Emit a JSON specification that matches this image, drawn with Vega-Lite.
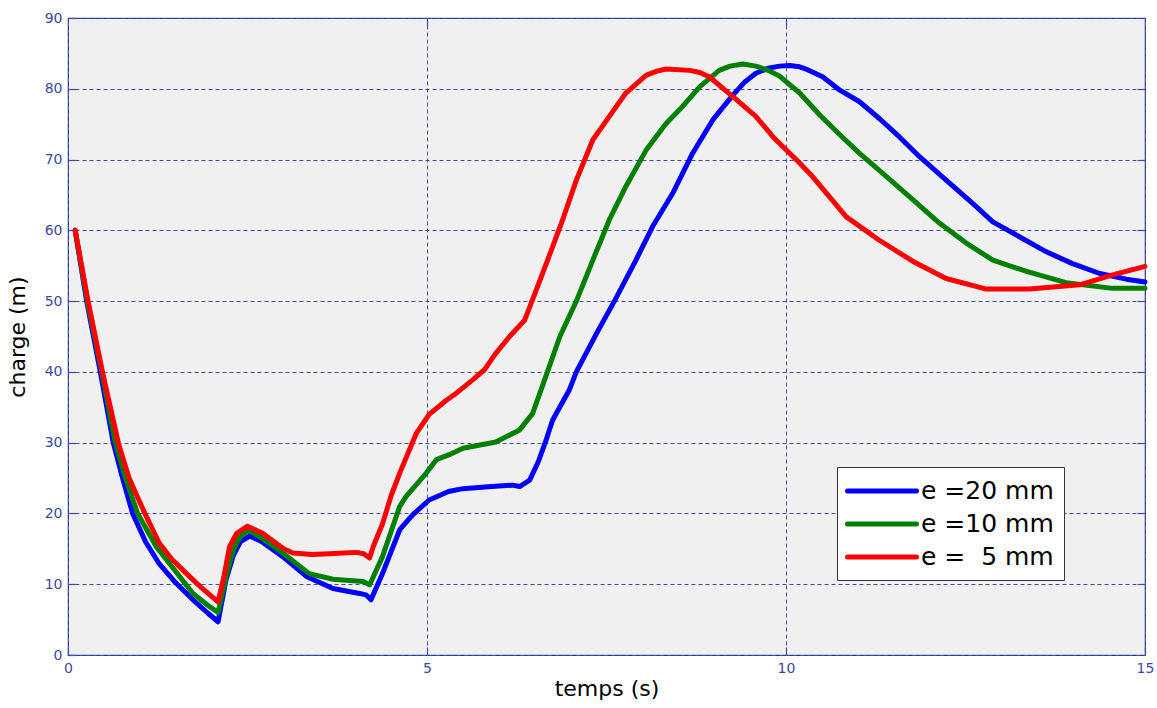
{
  "$schema": "https://vega.github.io/schema/vega-lite/v6.json",
  "width": 1077,
  "height": 637,
  "autosize": {"type": "none"},
  "padding": {"left": 68, "top": 18, "right": 12, "bottom": 53},
  "background": "white",
  "config": {
    "view": {"fill": "#f0f0f0", "stroke": "#3f4ea3", "strokeWidth": 1.2},
    "axis": {
      "labelFont": "DejaVu Sans",
      "labelFontSize": 14,
      "labelColor": "#4048a0",
      "titleFont": "DejaVu Sans",
      "titleFontSize": 22,
      "titleFontWeight": "normal",
      "titleColor": "black",
      "domain": false,
      "tickColor": "#3f4ea3",
      "tickSize": -8,
      "tickWidth": 1.2,
      "gridColor": "#2e3c98",
      "gridDash": [4, 3],
      "gridWidth": 1,
      "gridOpacity": 0.9
    }
  },
  "data": {
    "values": [
      {"t": 0.10, "h": 60.0, "e": "e =20 mm"},
      {"t": 0.26, "h": 50.0, "e": "e =20 mm"},
      {"t": 0.45, "h": 40.0, "e": "e =20 mm"},
      {"t": 0.63, "h": 30.0, "e": "e =20 mm"},
      {"t": 0.76, "h": 25.0, "e": "e =20 mm"},
      {"t": 0.90, "h": 20.0, "e": "e =20 mm"},
      {"t": 1.08, "h": 16.0, "e": "e =20 mm"},
      {"t": 1.27, "h": 12.9, "e": "e =20 mm"},
      {"t": 1.50, "h": 10.2, "e": "e =20 mm"},
      {"t": 1.74, "h": 7.8, "e": "e =20 mm"},
      {"t": 1.95, "h": 5.9, "e": "e =20 mm"},
      {"t": 2.09, "h": 4.7, "e": "e =20 mm"},
      {"t": 2.20, "h": 10.6, "e": "e =20 mm"},
      {"t": 2.30, "h": 14.0, "e": "e =20 mm"},
      {"t": 2.40, "h": 16.0, "e": "e =20 mm"},
      {"t": 2.53, "h": 16.8, "e": "e =20 mm"},
      {"t": 2.70, "h": 16.0, "e": "e =20 mm"},
      {"t": 2.99, "h": 13.9, "e": "e =20 mm"},
      {"t": 3.32, "h": 11.1, "e": "e =20 mm"},
      {"t": 3.69, "h": 9.4, "e": "e =20 mm"},
      {"t": 4.06, "h": 8.7, "e": "e =20 mm"},
      {"t": 4.15, "h": 8.5, "e": "e =20 mm"},
      {"t": 4.22, "h": 7.8, "e": "e =20 mm"},
      {"t": 4.38, "h": 11.5, "e": "e =20 mm"},
      {"t": 4.62, "h": 17.7, "e": "e =20 mm"},
      {"t": 4.80, "h": 19.8, "e": "e =20 mm"},
      {"t": 5.03, "h": 21.9, "e": "e =20 mm"},
      {"t": 5.30, "h": 23.1, "e": "e =20 mm"},
      {"t": 5.50, "h": 23.5, "e": "e =20 mm"},
      {"t": 5.90, "h": 23.8, "e": "e =20 mm"},
      {"t": 6.19, "h": 24.0, "e": "e =20 mm"},
      {"t": 6.29, "h": 23.8, "e": "e =20 mm"},
      {"t": 6.43, "h": 24.7, "e": "e =20 mm"},
      {"t": 6.55, "h": 27.3, "e": "e =20 mm"},
      {"t": 6.66, "h": 30.4, "e": "e =20 mm"},
      {"t": 6.75, "h": 33.2, "e": "e =20 mm"},
      {"t": 6.98, "h": 37.4, "e": "e =20 mm"},
      {"t": 7.08, "h": 40.0, "e": "e =20 mm"},
      {"t": 7.36, "h": 45.4, "e": "e =20 mm"},
      {"t": 7.61, "h": 50.0, "e": "e =20 mm"},
      {"t": 7.91, "h": 55.8, "e": "e =20 mm"},
      {"t": 8.14, "h": 60.5, "e": "e =20 mm"},
      {"t": 8.42, "h": 65.2, "e": "e =20 mm"},
      {"t": 8.70, "h": 70.9, "e": "e =20 mm"},
      {"t": 8.98, "h": 75.6, "e": "e =20 mm"},
      {"t": 9.26, "h": 79.1, "e": "e =20 mm"},
      {"t": 9.42, "h": 80.9, "e": "e =20 mm"},
      {"t": 9.58, "h": 82.2, "e": "e =20 mm"},
      {"t": 9.75, "h": 82.9, "e": "e =20 mm"},
      {"t": 9.91, "h": 83.2, "e": "e =20 mm"},
      {"t": 10.05, "h": 83.3, "e": "e =20 mm"},
      {"t": 10.19, "h": 83.1, "e": "e =20 mm"},
      {"t": 10.30, "h": 82.7, "e": "e =20 mm"},
      {"t": 10.51, "h": 81.7, "e": "e =20 mm"},
      {"t": 10.75, "h": 79.8, "e": "e =20 mm"},
      {"t": 11.02, "h": 78.2, "e": "e =20 mm"},
      {"t": 11.30, "h": 75.8, "e": "e =20 mm"},
      {"t": 11.58, "h": 73.2, "e": "e =20 mm"},
      {"t": 11.86, "h": 70.4, "e": "e =20 mm"},
      {"t": 12.23, "h": 67.1, "e": "e =20 mm"},
      {"t": 12.60, "h": 63.8, "e": "e =20 mm"},
      {"t": 12.88, "h": 61.2, "e": "e =20 mm"},
      {"t": 13.25, "h": 59.1, "e": "e =20 mm"},
      {"t": 13.62, "h": 57.0, "e": "e =20 mm"},
      {"t": 13.99, "h": 55.3, "e": "e =20 mm"},
      {"t": 14.37, "h": 53.9, "e": "e =20 mm"},
      {"t": 14.74, "h": 53.1, "e": "e =20 mm"},
      {"t": 15.00, "h": 52.7, "e": "e =20 mm"},

      {"t": 0.10, "h": 60.0, "e": "e =10 mm"},
      {"t": 0.27, "h": 50.0, "e": "e =10 mm"},
      {"t": 0.47, "h": 40.0, "e": "e =10 mm"},
      {"t": 0.66, "h": 30.0, "e": "e =10 mm"},
      {"t": 0.80, "h": 25.0, "e": "e =10 mm"},
      {"t": 0.97, "h": 20.0, "e": "e =10 mm"},
      {"t": 1.23, "h": 15.3, "e": "e =10 mm"},
      {"t": 1.50, "h": 11.8, "e": "e =10 mm"},
      {"t": 1.74, "h": 8.7, "e": "e =10 mm"},
      {"t": 1.95, "h": 7.0, "e": "e =10 mm"},
      {"t": 2.09, "h": 6.0, "e": "e =10 mm"},
      {"t": 2.20, "h": 11.0, "e": "e =10 mm"},
      {"t": 2.30, "h": 14.8, "e": "e =10 mm"},
      {"t": 2.40, "h": 16.8, "e": "e =10 mm"},
      {"t": 2.52, "h": 17.6, "e": "e =10 mm"},
      {"t": 2.70, "h": 16.5, "e": "e =10 mm"},
      {"t": 2.99, "h": 14.4, "e": "e =10 mm"},
      {"t": 3.36, "h": 11.5, "e": "e =10 mm"},
      {"t": 3.69, "h": 10.7, "e": "e =10 mm"},
      {"t": 4.11, "h": 10.4, "e": "e =10 mm"},
      {"t": 4.20, "h": 9.9, "e": "e =10 mm"},
      {"t": 4.38, "h": 13.9, "e": "e =10 mm"},
      {"t": 4.62, "h": 21.0, "e": "e =10 mm"},
      {"t": 4.71, "h": 22.4, "e": "e =10 mm"},
      {"t": 4.99, "h": 25.7, "e": "e =10 mm"},
      {"t": 5.13, "h": 27.6, "e": "e =10 mm"},
      {"t": 5.31, "h": 28.3, "e": "e =10 mm"},
      {"t": 5.50, "h": 29.2, "e": "e =10 mm"},
      {"t": 5.96, "h": 30.1, "e": "e =10 mm"},
      {"t": 6.29, "h": 31.8, "e": "e =10 mm"},
      {"t": 6.47, "h": 34.1, "e": "e =10 mm"},
      {"t": 6.66, "h": 39.5, "e": "e =10 mm"},
      {"t": 6.85, "h": 45.0, "e": "e =10 mm"},
      {"t": 7.08, "h": 50.0, "e": "e =10 mm"},
      {"t": 7.31, "h": 55.8, "e": "e =10 mm"},
      {"t": 7.54, "h": 61.5, "e": "e =10 mm"},
      {"t": 7.77, "h": 66.2, "e": "e =10 mm"},
      {"t": 8.05, "h": 71.3, "e": "e =10 mm"},
      {"t": 8.33, "h": 75.1, "e": "e =10 mm"},
      {"t": 8.56, "h": 77.5, "e": "e =10 mm"},
      {"t": 8.80, "h": 80.3, "e": "e =10 mm"},
      {"t": 9.07, "h": 82.6, "e": "e =10 mm"},
      {"t": 9.22, "h": 83.2, "e": "e =10 mm"},
      {"t": 9.40, "h": 83.5, "e": "e =10 mm"},
      {"t": 9.58, "h": 83.2, "e": "e =10 mm"},
      {"t": 9.75, "h": 82.6, "e": "e =10 mm"},
      {"t": 9.91, "h": 81.8, "e": "e =10 mm"},
      {"t": 10.19, "h": 79.4, "e": "e =10 mm"},
      {"t": 10.47, "h": 76.3, "e": "e =10 mm"},
      {"t": 10.75, "h": 73.5, "e": "e =10 mm"},
      {"t": 11.02, "h": 70.9, "e": "e =10 mm"},
      {"t": 11.40, "h": 67.6, "e": "e =10 mm"},
      {"t": 11.77, "h": 64.3, "e": "e =10 mm"},
      {"t": 12.14, "h": 61.0, "e": "e =10 mm"},
      {"t": 12.51, "h": 58.2, "e": "e =10 mm"},
      {"t": 12.88, "h": 55.8, "e": "e =10 mm"},
      {"t": 13.35, "h": 54.2, "e": "e =10 mm"},
      {"t": 13.90, "h": 52.6, "e": "e =10 mm"},
      {"t": 14.55, "h": 51.8, "e": "e =10 mm"},
      {"t": 15.00, "h": 51.8, "e": "e =10 mm"},

      {"t": 0.10, "h": 60.0, "e": "e = \u00a05 mm"},
      {"t": 0.28, "h": 50.0, "e": "e = \u00a05 mm"},
      {"t": 0.48, "h": 40.0, "e": "e = \u00a05 mm"},
      {"t": 0.70, "h": 30.0, "e": "e = \u00a05 mm"},
      {"t": 0.85, "h": 25.0, "e": "e = \u00a05 mm"},
      {"t": 1.07, "h": 20.0, "e": "e = \u00a05 mm"},
      {"t": 1.27, "h": 15.8, "e": "e = \u00a05 mm"},
      {"t": 1.45, "h": 13.5, "e": "e = \u00a05 mm"},
      {"t": 1.65, "h": 11.5, "e": "e = \u00a05 mm"},
      {"t": 1.85, "h": 9.6, "e": "e = \u00a05 mm"},
      {"t": 2.09, "h": 7.5, "e": "e = \u00a05 mm"},
      {"t": 2.17, "h": 11.0, "e": "e = \u00a05 mm"},
      {"t": 2.25, "h": 15.3, "e": "e = \u00a05 mm"},
      {"t": 2.35, "h": 17.2, "e": "e = \u00a05 mm"},
      {"t": 2.50, "h": 18.2, "e": "e = \u00a05 mm"},
      {"t": 2.71, "h": 17.2, "e": "e = \u00a05 mm"},
      {"t": 2.99, "h": 15.1, "e": "e = \u00a05 mm"},
      {"t": 3.13, "h": 14.4, "e": "e = \u00a05 mm"},
      {"t": 3.40, "h": 14.2, "e": "e = \u00a05 mm"},
      {"t": 3.64, "h": 14.3, "e": "e = \u00a05 mm"},
      {"t": 4.01, "h": 14.5, "e": "e = \u00a05 mm"},
      {"t": 4.12, "h": 14.3, "e": "e = \u00a05 mm"},
      {"t": 4.20, "h": 13.7, "e": "e = \u00a05 mm"},
      {"t": 4.25, "h": 15.3, "e": "e = \u00a05 mm"},
      {"t": 4.38, "h": 18.5, "e": "e = \u00a05 mm"},
      {"t": 4.50, "h": 22.5, "e": "e = \u00a05 mm"},
      {"t": 4.62, "h": 25.7, "e": "e = \u00a05 mm"},
      {"t": 4.85, "h": 31.3, "e": "e = \u00a05 mm"},
      {"t": 5.03, "h": 34.0, "e": "e = \u00a05 mm"},
      {"t": 5.27, "h": 36.0, "e": "e = \u00a05 mm"},
      {"t": 5.41, "h": 37.0, "e": "e = \u00a05 mm"},
      {"t": 5.64, "h": 38.9, "e": "e = \u00a05 mm"},
      {"t": 5.80, "h": 40.3, "e": "e = \u00a05 mm"},
      {"t": 5.95, "h": 42.5, "e": "e = \u00a05 mm"},
      {"t": 6.15, "h": 45.0, "e": "e = \u00a05 mm"},
      {"t": 6.36, "h": 47.3, "e": "e = \u00a05 mm"},
      {"t": 6.47, "h": 50.2, "e": "e = \u00a05 mm"},
      {"t": 6.68, "h": 55.8, "e": "e = \u00a05 mm"},
      {"t": 6.89, "h": 61.5, "e": "e = \u00a05 mm"},
      {"t": 7.08, "h": 67.1, "e": "e = \u00a05 mm"},
      {"t": 7.31, "h": 72.8, "e": "e = \u00a05 mm"},
      {"t": 7.54, "h": 76.1, "e": "e = \u00a05 mm"},
      {"t": 7.77, "h": 79.4, "e": "e = \u00a05 mm"},
      {"t": 8.05, "h": 81.9, "e": "e = \u00a05 mm"},
      {"t": 8.20, "h": 82.5, "e": "e = \u00a05 mm"},
      {"t": 8.33, "h": 82.8, "e": "e = \u00a05 mm"},
      {"t": 8.66, "h": 82.6, "e": "e = \u00a05 mm"},
      {"t": 8.80, "h": 82.3, "e": "e = \u00a05 mm"},
      {"t": 8.93, "h": 81.7, "e": "e = \u00a05 mm"},
      {"t": 9.26, "h": 78.9, "e": "e = \u00a05 mm"},
      {"t": 9.58, "h": 76.1, "e": "e = \u00a05 mm"},
      {"t": 9.82, "h": 73.2, "e": "e = \u00a05 mm"},
      {"t": 10.19, "h": 69.5, "e": "e = \u00a05 mm"},
      {"t": 10.37, "h": 67.6, "e": "e = \u00a05 mm"},
      {"t": 10.84, "h": 61.9, "e": "e = \u00a05 mm"},
      {"t": 11.30, "h": 58.6, "e": "e = \u00a05 mm"},
      {"t": 11.77, "h": 55.6, "e": "e = \u00a05 mm"},
      {"t": 12.23, "h": 53.2, "e": "e = \u00a05 mm"},
      {"t": 12.79, "h": 51.7, "e": "e = \u00a05 mm"},
      {"t": 13.39, "h": 51.7, "e": "e = \u00a05 mm"},
      {"t": 14.09, "h": 52.3, "e": "e = \u00a05 mm"},
      {"t": 14.55, "h": 53.7, "e": "e = \u00a05 mm"},
      {"t": 15.00, "h": 54.9, "e": "e = \u00a05 mm"}
    ]
  },
  "layer": [
    {
      "mark": {"type": "line", "strokeWidth": 5, "strokeCap": "round", "strokeJoin": "round"},
      "encoding": {
        "x": {
          "field": "t", "type": "quantitative",
          "scale": {"domain": [0, 15], "nice": false, "zero": false},
          "axis": {"orient": "bottom", "values": [0, 5, 10, 15], "title": "temps (s)", "labelPadding": 14, "titlePadding": 3, "labelFlush": false}
        },
        "y": {
          "field": "h", "type": "quantitative",
          "scale": {"domain": [0, 90], "nice": false},
          "axis": {"orient": "left", "values": [0, 10, 20, 30, 40, 50, 60, 70, 80, 90], "title": "charge (m)", "labelPadding": 14, "titlePadding": 15}
        },
        "color": {
          "field": "e", "type": "nominal",
          "scale": {"domain": ["e =20 mm", "e =10 mm", "e = \u00a05 mm"], "range": ["#0000ff", "#008000", "#ff0000"]},
          "legend": {
            "title": null,
            "orient": "none",
            "legendX": 769,
            "legendY": 449,
            "fillColor": "white",
            "strokeColor": "#333333",
            "padding": 10,
            "symbolType": "M-3,0L3,0",
            "symbolSize": 529,
            "symbolStrokeWidth": 5,
            "symbolOffset": 21,
            "labelOffset": 25,
            "labelFont": "DejaVu Sans",
            "labelFontSize": 25,
            "labelColor": "black",
            "labelLimit": 300,
            "rowPadding": 6,
            "encode": {"symbols": {"update": {"strokeCap": {"value": "round"}}}}
          }
        }
      }
    },
    {
      "mark": {"type": "line", "strokeOpacity": 0},
      "encoding": {
        "x": {"field": "t", "type": "quantitative", "axis": {"orient": "top", "values": [5, 10], "labels": false, "grid": false, "title": null}},
        "y": {"field": "h", "type": "quantitative", "axis": {"orient": "right", "values": [10, 20, 30, 40, 50, 60, 70, 80], "labels": false, "grid": false, "title": null}},
        "detail": {"field": "e"}
      }
    }
  ],
  "resolve": {"axis": {"x": "independent", "y": "independent"}}
}
